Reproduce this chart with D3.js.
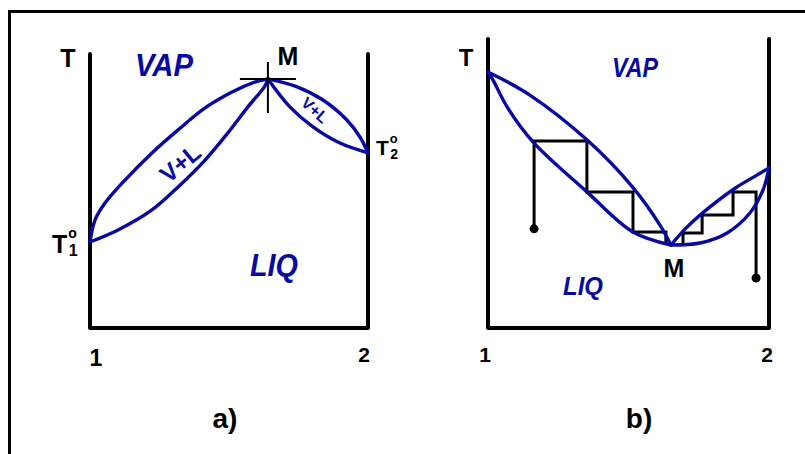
<!DOCTYPE html>
<html>
<head>
<meta charset="utf-8">
<script src="https://cdn.jsdelivr.net/npm/d3@7"></script>
<style>
  html, body { margin: 0; padding: 0; background: #fff; }
  svg { display: block; }
  text { font-family: "Liberation Sans", Arial, Helvetica, sans-serif; font-weight: bold; }
</style>
</head>
<body>
<svg id="chart" width="805" height="454"></svg>
<script>
// ---- Panel a: maximum-boiling azeotrope, [mole fraction of 2, T] ----
const aDewLeft    = [[0,31.4],[0.018,39.4],[0.054,45.6],[0.126,54.0],[0.223,63.9],[0.317,72.3],[0.414,80.3],[0.511,86.1],[0.583,89.4],[0.640,90.9]];
const aBubbleLeft = [[0,31.4],[0.101,35.8],[0.223,43.1],[0.317,51.5],[0.414,61.3],[0.496,71.2],[0.568,80.7],[0.629,88.3],[0.640,90.9]];
const aDewRight    = [[0.640,90.9],[0.745,88.0],[0.838,83.2],[0.924,75.9],[0.971,69.7],[1,63.9]];
const aBubbleRight = [[0.640,90.9],[0.719,80.7],[0.802,73.4],[0.899,67.5],[1,63.9]];
const aAzeotrope = [0.640, 90.9];

// ---- Panel b: minimum-boiling azeotrope with distillation steps ----
const bDewLeft    = [[0,88.6],[0.149,80.6],[0.352,65.1],[0.516,48.6],[0.612,35.6],[0.651,28.7]];
const bBubbleLeft = [[0,88.6],[0.018,85.8],[0.068,76.5],[0.160,64.4],[0.352,47.1],[0.516,33.2],[0.651,28.7]];
const bDewRight    = [[0.651,28.7],[0.708,34.9],[0.790,41.9],[0.886,48.8],[0.957,52.9],[1,55.4]];
const bBubbleRight = [[0.651,28.7],[0.754,29.4],[0.851,32.9],[0.932,39.8],[0.979,47.8],[1,55.4]];
const bStepsLeft  = [[0.164,34.3],[0.164,64.7],[0.352,64.7],[0.352,47.1],[0.516,47.1],[0.516,33.2],[0.633,33.2],[0.633,29.4]];
const bStepsRight = [[0.954,17.3],[0.954,47.1],[0.872,47.1],[0.872,39.1],[0.762,39.1],[0.762,32.9],[0.694,32.9],[0.694,29.4]];

const compTicks = [0, 1];
const compTickLabels = ["1", "2"];

const BLUE = "#0808a2";
const svg = d3.select("#chart");

// outer frame (runs off the right and bottom edges)
svg.append("path")
  .attr("d", "M9.5,454 L9.5,11.5 L805,11.5")
  .attr("fill", "none").attr("stroke", "#000").attr("stroke-width", 3);

// scales for each panel
const xA = d3.scaleLinear().domain([0, 1]).range([90, 368]);
const yA = d3.scaleLinear().domain([0, 100]).range([328, 54]);
const xB = d3.scaleLinear().domain([0, 1]).range([488, 769]);
const yB = d3.scaleLinear().domain([0, 100]).range([328, 39]);

function frame(x, y) {
  const [x0, x1] = x.range();
  const [yb, yt] = y.range();
  svg.append("path")
    .attr("d", `M${x0},${yt} L${x0},${yb} L${x1},${yb} L${x1},${yt}`)
    .attr("fill", "none").attr("stroke", "#000")
    .attr("stroke-width", 4).attr("stroke-linecap", "round").attr("stroke-linejoin", "round");
}

function curve(data, x, y) {
  const line = d3.line().x(d => x(d[0])).y(d => y(d[1])).curve(d3.curveCatmullRom.alpha(0.5));
  svg.append("path").attr("d", line(data))
    .attr("fill", "none").attr("stroke", BLUE).attr("stroke-width", 3.4)
    .attr("stroke-linecap", "round");
}

function steps(data, x, y) {
  const line = d3.line().x(d => x(d[0])).y(d => y(d[1]));
  svg.append("path").attr("d", line(data))
    .attr("fill", "none").attr("stroke", "#000").attr("stroke-width", 3)
    .attr("stroke-linejoin", "miter");
  svg.append("circle").attr("cx", x(data[0][0])).attr("cy", y(data[0][1]))
    .attr("r", 4.5).attr("fill", "#000");
}

function label(txt, cx, baseline, size, opts = {}) {
  const t = svg.append("text").attr("x", cx).attr("y", baseline)
    .attr("text-anchor", "middle").attr("font-size", size)
    .attr("fill", opts.fill || "#000").text(txt);
  if (opts.italic) t.attr("font-style", "italic");
  if (opts.weight) t.attr("font-weight", opts.weight);
  if (opts.width) t.attr("textLength", opts.width).attr("lengthAdjust", "spacingAndGlyphs");
  if (opts.rotate !== undefined) {
    t.attr("x", 0).attr("y", 0).attr("dy", "0.36em")
      .attr("transform", `translate(${cx},${baseline}) rotate(${opts.rotate})`);
  }
  return t;
}

// T with a stacked superscript "o" and subscript index, as one text run
function boilingLabel(sub, x, baseline, size, supSize, subSize, supRise, subDrop) {
  const t = svg.append("text").attr("x", x).attr("y", baseline).attr("font-size", size);
  t.append("tspan").text("T");
  t.append("tspan").attr("font-size", supSize).attr("dx", 1).attr("dy", -supRise).text("o");
  t.append("tspan").attr("font-size", subSize)
    .attr("dx", -supSize * 0.58).attr("dy", supRise + subDrop).text(sub);
  return t;
}

// ---------------- panel a ----------------
frame(xA, yA);
[aDewLeft, aBubbleLeft, aDewRight, aBubbleRight].forEach(d => curve(d, xA, yA));

// crosshair at the azeotrope
const mx = xA(aAzeotrope[0]), my = yA(aAzeotrope[1]);
svg.append("path")
  .attr("d", `M${mx - 28},${my} L${mx + 28},${my} M${mx},${my - 17} L${mx},${my + 34}`)
  .attr("stroke", "#000").attr("stroke-width", 2).attr("fill", "none");

label("T", 68, 67, 25);
label("VAP", 164, 76, 31, { italic: true, fill: BLUE, width: 58 });
label("M", 288, 65, 25);
label("V+L", 180, 163, 24, { fill: BLUE, rotate: -40 });
label("V+L", 315, 110, 16, { fill: BLUE, rotate: 42 });
label("LIQ", 274, 276, 31, { italic: true, fill: BLUE, width: 48 });

// pure-component boiling points
boilingLabel("1", 52, 253, 25, 14, 16, 15, 3);
boilingLabel("2", 376, 155, 21, 13, 14, 12, 4);

label(compTickLabels[0], xA(compTicks[0]) + 6, 366, 23);
label(compTickLabels[1], xA(compTicks[1]) - 4, 362, 21, { weight: "normal" });
label("a)", 225, 428, 28);

// ---------------- panel b ----------------
frame(xB, yB);
steps(bStepsLeft, xB, yB);
steps(bStepsRight, xB, yB);
[bDewLeft, bBubbleLeft, bDewRight, bBubbleRight].forEach(d => curve(d, xB, yB));

label("T", 466, 66, 24);
label("VAP", 635, 77, 27, { italic: true, fill: BLUE, width: 46 });
label("M", 674, 277, 25);
label("LIQ", 583, 295, 26, { italic: true, fill: BLUE, width: 40 });

label(compTickLabels[0], xB(compTicks[0]) - 3, 362, 21);
label(compTickLabels[1], xB(compTicks[1]) - 2, 362, 21);
label("b)", 639, 428, 28);
</script>
</body>
</html>
